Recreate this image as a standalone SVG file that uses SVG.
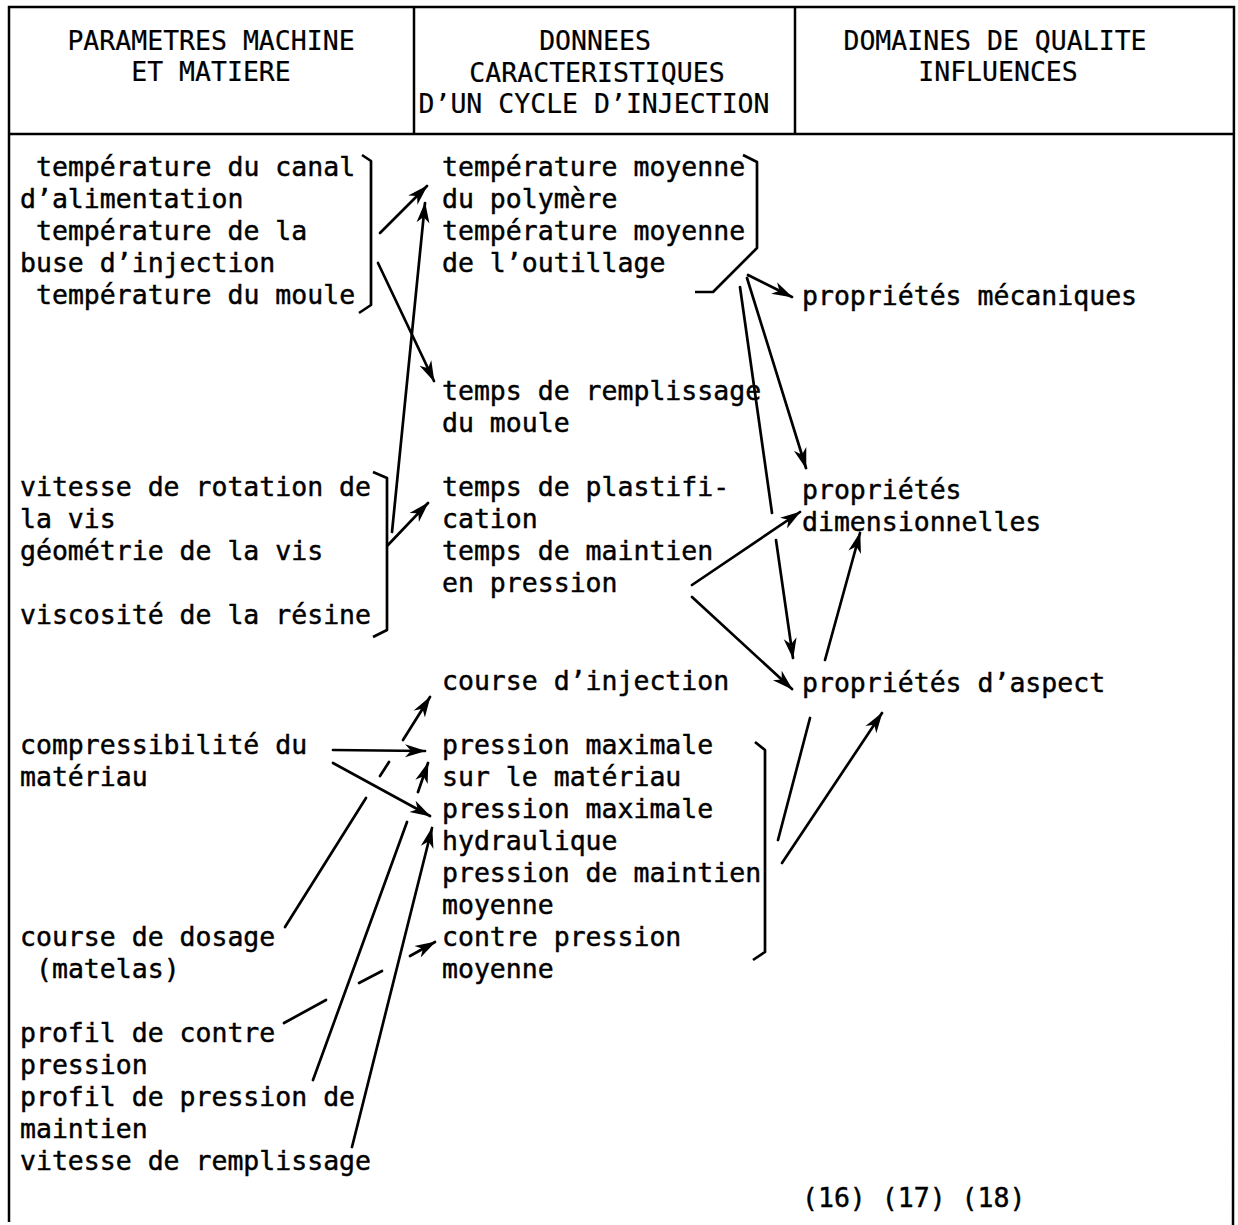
<svg xmlns="http://www.w3.org/2000/svg" width="1238" height="1225" viewBox="0 0 1238 1225">
<style>
text{font-family:"DejaVu Sans Mono","Liberation Mono",monospace;font-size:26.5px;fill:#000;stroke:#000;stroke-width:0.45}
.h{text-anchor:middle;stroke-width:0.2}
.fr{stroke:#000;stroke-width:2.5;fill:none}
.ln{stroke:#000;stroke-width:2.7;fill:none;stroke-linecap:round}
.br{stroke:#000;stroke-width:2.7;fill:none;stroke-linejoin:round}
</style>
<defs>
<marker id="ah" markerUnits="userSpaceOnUse" markerWidth="24" markerHeight="16" refX="20" refY="7" orient="auto">
<path d="M0,0.5 L21,7 L0,13.5 L6,7 z" fill="#000"/>
</marker>
</defs>
<rect width="1238" height="1225" fill="#fff"/>
<g id="frame">
<path class="fr" d="M9,1222 L9,7 L1234,7 L1233,1225"/>
<path class="fr" d="M9,134 L1234,134"/>
<path class="fr" d="M414,7 L414,134 M795,7 L795,134"/>
</g>
<g id="header">
<text class="h" x="211" y="50">PARAMETRES MACHINE</text>
<text class="h" x="211" y="81">ET MATIERE</text>
<text class="h" x="595" y="50">DONNEES</text>
<text class="h" x="597" y="82">CARACTERISTIQUES</text>
<text class="h" x="594" y="113">D’UN CYCLE D’INJECTION</text>
<text class="h" x="995" y="50">DOMAINES DE QUALITE</text>
<text class="h" x="998" y="81">INFLUENCES</text>
</g>
<g id="n-temperatures-machine">
<text x="36" y="176">température du canal</text>
<text x="20" y="208">d’alimentation</text>
<text x="36" y="240">température de la</text>
<text x="20" y="272">buse d’injection</text>
<text x="36" y="304">température du moule</text>
<path class="br" d="M362,155 L371,161 L371,305 L359,313"/>
</g>
<g id="n-vis">
<text x="20" y="496">vitesse de rotation de</text>
<text x="20" y="528">la vis</text>
<text x="20" y="560">géométrie de la vis</text>
<text x="20" y="624">viscosité de la résine</text>
<path class="br" d="M373,472 L387,478 L387,630 L373,637"/>
</g>
<g id="n-compressibilite">
<text x="20" y="754">compressibilité du</text>
<text x="20" y="786">matériau</text>
</g>
<g id="n-course-dosage">
<text x="20" y="946">course de dosage</text>
<text x="36" y="978">(matelas)</text>
</g>
<g id="n-profil-contre-pression">
<text x="20" y="1042">profil de contre</text>
<text x="20" y="1074">pression</text>
</g>
<g id="n-profil-maintien">
<text x="20" y="1106">profil de pression de</text>
<text x="20" y="1138">maintien</text>
</g>
<g id="n-vitesse-remplissage">
<text x="20" y="1170">vitesse de remplissage</text>
</g>
<g id="n-temperatures-moyennes">
<text x="442" y="176">température moyenne</text>
<text x="442" y="208">du polymère</text>
<text x="442" y="240">température moyenne</text>
<text x="442" y="272">de l’outillage</text>
<path class="br" d="M743,155 L757,162 L757,248 L713,292 L695,292"/>
</g>
<g id="n-temps-remplissage">
<text x="442" y="400">temps de remplissage</text>
<text x="442" y="432">du moule</text>
</g>
<g id="n-temps-plastification">
<text x="442" y="496">temps de plastifi-</text>
<text x="442" y="528">cation</text>
<text x="442" y="560">temps de maintien</text>
<text x="442" y="592">en pression</text>
</g>
<g id="n-course-injection">
<text x="442" y="690">course d’injection</text>
</g>
<g id="n-pressions">
<text x="442" y="754">pression maximale</text>
<text x="442" y="786">sur le matériau</text>
<text x="442" y="818">pression maximale</text>
<text x="442" y="850">hydraulique</text>
<text x="442" y="882">pression de maintien</text>
<text x="442" y="914">moyenne</text>
<text x="442" y="946">contre pression</text>
<text x="442" y="978">moyenne</text>
<path class="br" d="M755,742 L765,750 L765,952 L753,960"/>
</g>
<g id="n-mecaniques">
<text x="802" y="305">propriétés mécaniques</text>
</g>
<g id="n-dimensionnelles">
<text x="802" y="499">propriétés</text>
<text x="802" y="531">dimensionnelles</text>
</g>
<g id="n-aspect">
<text x="802" y="692">propriétés d’aspect</text>
</g>
<g id="refs">
<text x="802" y="1207">(16) (17) (18)</text>
</g>
<g id="connectors">
<path class="ln" d="M380,233 L427,186" marker-end="url(#ah)"/>
<path class="ln" d="M378,263 L434,381" marker-end="url(#ah)"/>
<path class="ln" d="M392,532 L425,203" marker-end="url(#ah)"/>
<path class="ln" d="M388,545 L428,503" marker-end="url(#ah)"/>
<path class="ln" d="M748,275 L792,297" marker-end="url(#ah)"/>
<path class="ln" d="M747,278 L806,468" marker-end="url(#ah)"/>
<path class="ln" d="M740,287 L772,513"/>
<path class="ln" d="M776,540 L793,658" marker-end="url(#ah)"/>
<path class="ln" d="M692,585 L800,512" marker-end="url(#ah)"/>
<path class="ln" d="M692,597 L792,689" marker-end="url(#ah)"/>
<path class="ln" d="M825,660 L860,533" marker-end="url(#ah)"/>
<path class="ln" d="M810,718 L778,840"/>
<path class="ln" d="M782,863 L882,713" marker-end="url(#ah)"/>
<path class="ln" d="M333,750 L425,751" marker-end="url(#ah)"/>
<path class="ln" d="M333,763 L430,816" marker-end="url(#ah)"/>
<path class="ln" d="M285,927 L366,798"/>
<path class="ln" d="M380,776 L389,762"/>
<path class="ln" d="M403,740 L430,697" marker-end="url(#ah)"/>
<path class="ln" d="M284,1023 L326,1000"/>
<path class="ln" d="M359,983 L382,971"/>
<path class="ln" d="M410,956 L435,942" marker-end="url(#ah)"/>
<path class="ln" d="M313,1080 L407,822"/>
<path class="ln" d="M418,792 L428,763" marker-end="url(#ah)"/>
<path class="ln" d="M352,1147 L432,828" marker-end="url(#ah)"/>
</g>
</svg>
